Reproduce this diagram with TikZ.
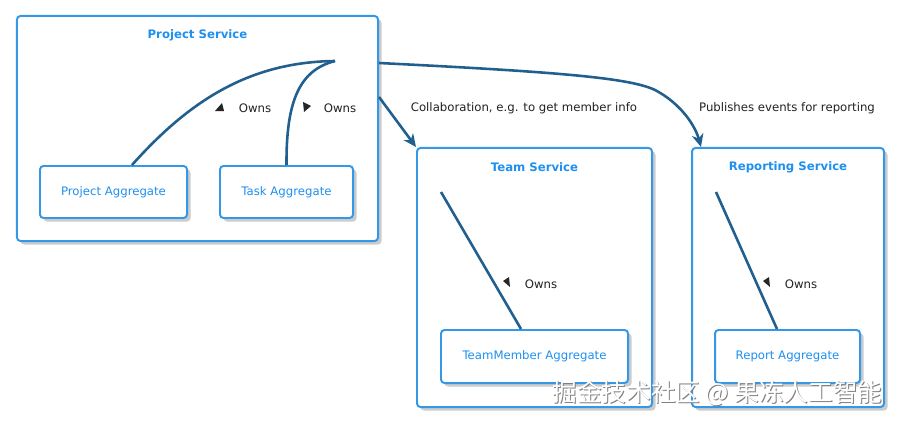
\documentclass[tikz,border=0pt]{standalone}
\usepackage{fontspec}
\setmainfont{DejaVu Sans}
\newfontfamily\cjkfont{Noto Sans CJK SC}
\usetikzlibrary{arrows.meta,shadows}
\definecolor{boxblue}{RGB}{52,152,232}
\definecolor{txtblue}{RGB}{30,144,240}
\definecolor{linkblue}{RGB}{33,96,142}
\definecolor{labgray}{RGB}{34,34,34}

\begin{document}
\begin{tikzpicture}[x=0.03cm,y=-0.03cm,
  service/.style={draw=boxblue,line width=1.7pt,rounded corners=3pt,fill=white,
    drop shadow={shadow xshift=3pt,shadow yshift=-3pt,fill=black!20,opacity=1}},
  aggregate/.style={service,text=txtblue,font=\fontsize{10}{12}\selectfont},
  svctitle/.style={text=txtblue,font=\bfseries\fontsize{10}{12}\selectfont},
  owns/.style={line width=2.2pt,draw=linkblue},
  link/.style={owns,-{Stealth[length=11pt,width=10pt,inset=3.5pt]}},
  lab/.style={text=labgray,font=\fontsize{10}{12}\selectfont},
  dirmark/.style={fill=black!85},
  wmark/.style={font=\cjkfont\fontsize{21}{21}\selectfont}]
  \useasboundingbox (0,0) rectangle (900,422);

  % project service
  \node[service,minimum width=10.83cm,minimum height=6.75cm] (projsvc) at (197.5,128.5) {};
  \node[svctitle] (projtitle) at (197.5,35) {Project Service};
  \node[aggregate,minimum width=4.41cm,minimum height=1.56cm] (projagg) at (113.5,192) {Project Aggregate};
  \node[aggregate,minimum width=3.99cm,minimum height=1.56cm] (taskagg) at (286.5,192) {Task Aggregate};
  \coordinate (projhub) at (335,61);

  % team service
  \node[service,minimum width=7.05cm,minimum height=7.77cm] (teamsvc) at (534.5,277.5) {};
  \node[svctitle] (teamtitle) at (534.5,167) {Team Service};
  \node[aggregate,minimum width=5.61cm,minimum height=1.59cm] (memberagg) at (534.5,356.5) {TeamMember Aggregate};
  \coordinate (teamhub) at (441,192);

  % reporting service
  \node[service,minimum width=5.76cm,minimum height=7.77cm] (repsvc) at (788,277.5) {};
  \node[svctitle] (reptitle) at (788,167) {Reporting Service};
  \node[aggregate,minimum width=4.35cm,minimum height=1.59cm] (repagg) at (787.5,356.5) {Report Aggregate};
  \coordinate (rephub) at (716,192);

  % owns
  \draw[owns] ([xshift=0.555cm]projagg.north) .. controls (190,100) and (250,62) .. (projhub);
  \draw[owns] (taskagg.north) .. controls (286,100) and (300,70) .. (projhub);
  \draw[owns] ([xshift=-0.405cm]memberagg.north) -- (teamhub);
  \draw[owns] ([xshift=-0.315cm]repagg.north) -- (rephub);
  \node[lab] (owns1) at (255,108) {Owns};
  \node[lab] (owns2) at (340,108) {Owns};
  \node[lab] (owns3) at (541,284) {Owns};
  \node[lab] (owns4) at (801,284) {Owns};
  \fill[dirmark] (222,103) -- (215,111) -- (224,111) -- cycle;
  \fill[dirmark] (303,102) -- (311,106) -- (304,112) -- cycle;
  \fill[dirmark] (503,281) -- (509,277) -- (510,287) -- cycle;
  \fill[dirmark] (763,281) -- (769,277) -- (770,287) -- cycle;

  % between services
  \draw[link] ([yshift=0.945cm]projsvc.east) -- (teamsvc.north west);
  \draw[link] ([yshift=1.965cm]projsvc.east) .. controls (560,72) and (630,78) .. (655,90)
    .. controls (680,103) and (695,125) .. ([xshift=0.3cm]repsvc.north west);
  \node[lab] (collab) at (524,108) {Collaboration, e.g. to get member info};
  \node[lab] (publish) at (787,108) {Publishes events for reporting};

  % watermark
  \node[wmark,text=black!50] (wmshadow) at (718.5,394.5) {掘金技术社区 @ 果冻人工智能};
  \node[wmark,text=white] (wm) at (717.5,393.5) {掘金技术社区 @ 果冻人工智能};
\end{tikzpicture}
\end{document}
